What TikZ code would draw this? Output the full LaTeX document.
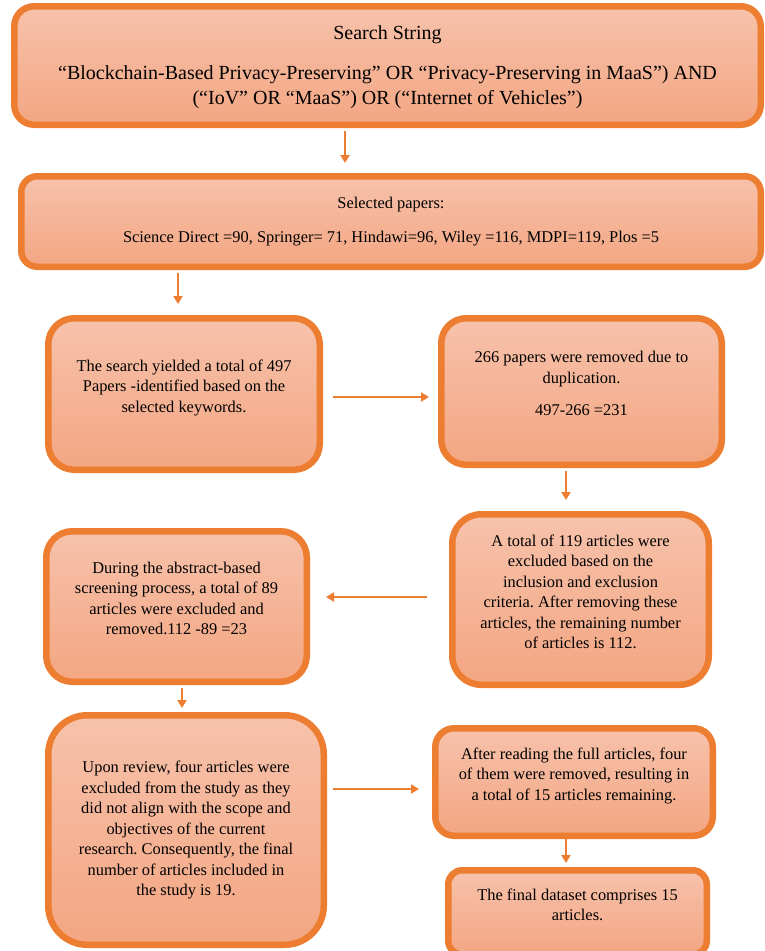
\documentclass[tikz,border=0pt]{standalone}
\usepackage{fontspec}
\setmainfont{Liberation Serif}
\usetikzlibrary{arrows.meta,positioning,calc}
\definecolor{edge}{HTML}{ED7D31}
\definecolor{boxtop}{HTML}{F7C2AB}
\definecolor{boxbot}{HTML}{F3A682}
\frenchspacing

\begin{document}
\begin{tikzpicture}[x=1pt,y=-1pt,
  flowbox/.style={draw=edge,line width=6.5pt,rounded corners=#1,top color=boxtop,bottom color=boxbot,
    align=center,inner sep=0pt,font=\fontsize{16.4}{20.5}\selectfont},
  lift/.style={text depth=#1},
  link/.style={edge,line width=2.3pt,-{Triangle[length=8pt,width=9pt]}}]
  \useasboundingbox (0,0) rectangle (764,951);
  % top boxes
  \node[flowbox=20,lift=0pt,minimum width=746.5pt,minimum height=118.5pt,font=\fontsize{20}{25}\selectfont] (search) at (387.5,65.5)
    {Search String\\[15pt]“Blockchain-Based Privacy-Preserving” OR “Privacy-Preserving in MaaS”) AND\\(“IoV” OR “MaaS”) OR (“Internet of Vehicles”)};
  \node[flowbox=16,minimum width=739.5pt,minimum height=90.5pt] (selected) at (391,221.5)
    {Selected papers:\\[13.5pt]Science Direct =90, Springer= 71, Hindawi=96, Wiley =116, MDPI=119, Plos =5};
  % screening steps
  \node[flowbox=26,lift=16pt,minimum width=271.5pt,minimum height=151.5pt] (found) at (184,394)
    {The search yielded a total of 497\\Papers -identified based on the\\selected keywords.};
  \node[flowbox=25,lift=16pt,minimum width=280.5pt,minimum height=146.5pt] (dupl) at (581.5,391.5)
    {266 papers were removed due to\\duplication.\\[12pt]497-266 =231};
  \node[flowbox=29,lift=16pt,minimum width=256.5pt,minimum height=170.5pt] (criteria) at (580.5,599.5)
    {A total of 119 articles were\\excluded based on the\\inclusion and exclusion\\criteria. After removing these\\articles, the remaining number\\of articles is 112.};
  \node[flowbox=26,lift=16pt,minimum width=260.5pt,minimum height=150.5pt] (abstract) at (176.5,606.5)
    {During the abstract-based\\screening process, a total of 89\\articles were excluded and\\removed.112 -89 =23};
  \node[flowbox=39,minimum width=275.5pt,minimum height=229.5pt] (scope) at (186,830)
    {Upon review, four articles were\\excluded from the study as they\\did not align with the scope and\\objectives of the current\\research. Consequently, the final\\number of articles included in\\the study is 19.};
  \node[flowbox=19,lift=16pt,minimum width=277.5pt,minimum height=107.5pt] (fulltext) at (574,782)
    {After reading the full articles, four\\of them were removed, resulting in\\a total of 15 articles remaining.};
  \node[flowbox=14,lift=16pt,minimum width=258.5pt,minimum height=84.5pt] (final) at (577.5,912.5)
    {The final dataset comprises 15\\articles.};
  % connectors
  \draw[link,shorten <=3pt,shorten >=10pt] ([xshift=-42.5pt]search.south) coordinate (a) -- (a |- selected.north);
  \draw[link,shorten <=3pt,shorten >=11pt] ([xshift=-213pt]selected.south) coordinate (b) -- (b |- found.north);
  \draw[link,shorten <=10pt,shorten >=9pt] ([yshift=-3pt]found.east) coordinate (c) -- (c -| dupl.west);
  \draw[link,shorten <=3pt,shorten >=11pt] ([xshift=-15.5pt]dupl.south) coordinate (d) -- (d |- criteria.north);
  \draw[link,shorten <=22pt,shorten >=16pt] ([yshift=2.5pt]criteria.west) coordinate (e) -- (e -| abstract.east);
  \draw[link,shorten <=3pt,shorten >=4pt] ([xshift=5.5pt]abstract.south) coordinate (f) -- (f |- scope.north);
  \draw[link,shorten <=6pt,shorten >=13pt] ([yshift=41pt]scope.east) coordinate (g) -- (g -| fulltext.west);
  \draw[link,shorten <=-6pt,shorten >=4pt] ([xshift=-8pt]fulltext.south) coordinate (h) -- (h |- final.north);
\end{tikzpicture}
\end{document}
